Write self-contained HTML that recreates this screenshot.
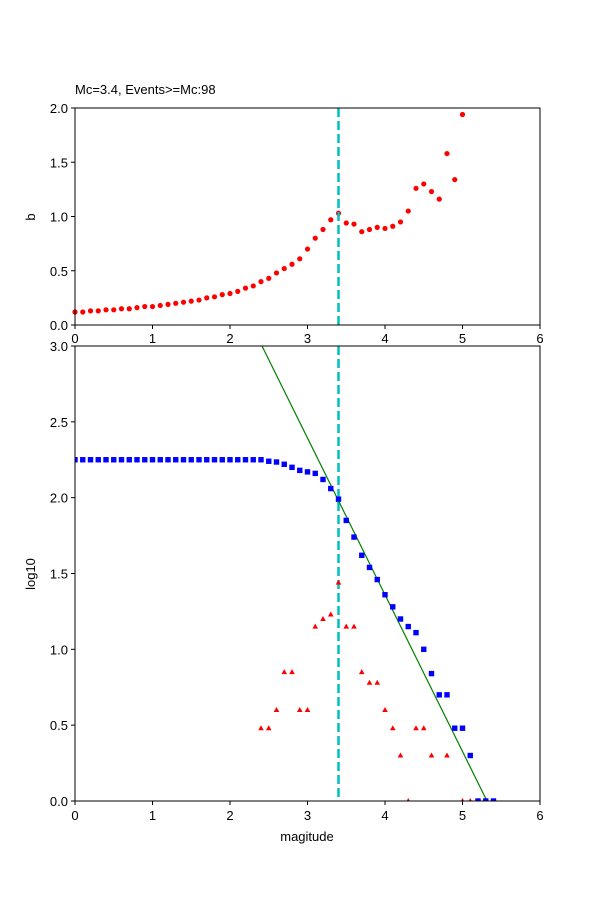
<!DOCTYPE html>
<html><head><meta charset="utf-8"><style>body{margin:0;background:#fff}svg{display:block;font-family:"Liberation Sans","DejaVu Sans",sans-serif}</style></head>
<body>
<svg id="s" width="600" height="900" xmlns="http://www.w3.org/2000/svg"></svg>
<script>
const s=document.getElementById('s');let h='';
const X=m=>75+77.5*m;
const Yt=v=>325-108.5*v;
const Yb=v=>801-151.67*v;
// frames
h+='<rect x="0" y="0" width="600" height="900" fill="#fff"/>';
const b=[.12,.12,.13,.13,.14,.14,.15,.15,.16,.17,.17,.18,.19,.2,.21,.22,.23,.25,.26,.28,.29,.31,.34,.36,.4,.43,.48,.52,.56,.61,.7,.8,.88,.97,1.03,.94,.93,.86,.88,.9,.89,.91,.95,1.05,1.26,1.3,1.23,1.16,1.58,1.34,1.94];
b.forEach((v,i)=>{h+=`<circle cx="${X(i/10)}" cy="${Yt(v)}" r="2.6" fill="red"/>`});
h+=`<line x1="${X(3.4)}" y1="108" x2="${X(3.4)}" y2="325" stroke="#00bfbf" stroke-width="2.5" stroke-dasharray="9,4"/>`;
h+='<rect x="75" y="108" width="465" height="217" fill="none" stroke="#000" stroke-width="1"/>';
for(let i=0;i<=6;i++){h+=`<line x1="${X(i)}" y1="325" x2="${X(i)}" y2="329" stroke="#000"/><text x="${X(i)}" y="343" font-size="13" text-anchor="middle">${i}</text>`;}
[0,0.5,1,1.5,2].forEach(v=>{h+=`<line x1="71" y1="${Yt(v)}" x2="75" y2="${Yt(v)}" stroke="#000"/><text x="68" y="${Yt(v)+5}" font-size="13" text-anchor="end">${v.toFixed(1)}</text>`});
h+='<text x="35" y="217" font-size="13" text-anchor="middle" transform="rotate(-90 35 217)">b</text>';
h+='<text x="75" y="94" font-size="13">Mc=3.4, Events&gt;=Mc:98</text>';
// bottom
const bl={};for(let i=0;i<=24;i++)bl[i]=2.25;
Object.assign(bl,{25:2.24,26:2.235,27:2.22,28:2.2,29:2.18,30:2.17,31:2.16,32:2.12,33:2.06,34:1.99,35:1.85,36:1.74,37:1.62,38:1.54,39:1.46,40:1.36,41:1.28,42:1.2,43:1.15,44:1.11,45:1.0,46:.84,47:.7,48:.7,49:.48,50:.48,51:.3,52:0,53:0,54:0});
const tr={24:.48,25:.48,26:.6,27:.85,28:.85,29:.6,30:.6,31:1.15,32:1.2,33:1.23,34:1.44,35:1.15,36:1.15,37:.85,38:.78,39:.78,40:.6,41:.48,42:.3,43:0,44:.48,45:.48,46:.3,48:.3,50:0,51:0};
h+='<defs><clipPath id="c"><rect x="75" y="346" width="465" height="455"/></clipPath></defs><g clip-path="url(#c)">';
h+=`<line x1="${X(3.4)}" y1="346" x2="${X(3.4)}" y2="801" stroke="#00bfbf" stroke-width="2.5" stroke-dasharray="9,4"/>`;
h+='<line x1="262" y1="346" x2="487" y2="801" stroke="green" stroke-width="1.2"/>';
for(const k in bl){const x=X(k/10),y=Yb(bl[k]);h+=`<rect x="${x-2.7}" y="${y-2.7}" width="5.4" height="5.4" fill="blue"/>`;}
for(const k in tr){const x=X(k/10),y=Yb(tr[k]);h+=`<polygon points="${x},${y-3} ${x-2.8},${y+2} ${x+2.8},${y+2}" fill="red"/>`;}
h+='</g><rect x="75" y="346" width="465" height="455" fill="none" stroke="#000" stroke-width="1"/>';
for(let i=0;i<=6;i++){h+=`<line x1="${X(i)}" y1="801" x2="${X(i)}" y2="805" stroke="#000"/><text x="${X(i)}" y="820" font-size="13" text-anchor="middle">${i}</text>`;}
[0,0.5,1,1.5,2,2.5,3].forEach(v=>{h+=`<line x1="71" y1="${Yb(v)}" x2="75" y2="${Yb(v)}" stroke="#000"/><text x="68" y="${Yb(v)+5}" font-size="13" text-anchor="end">${v.toFixed(1)}</text>`});
h+='<text x="307" y="841" font-size="13" text-anchor="middle">magitude</text>';
h+='<text x="35" y="574" font-size="13" text-anchor="middle" transform="rotate(-90 35 574)">log10</text>';
s.innerHTML=h;
</script>
</body></html>
